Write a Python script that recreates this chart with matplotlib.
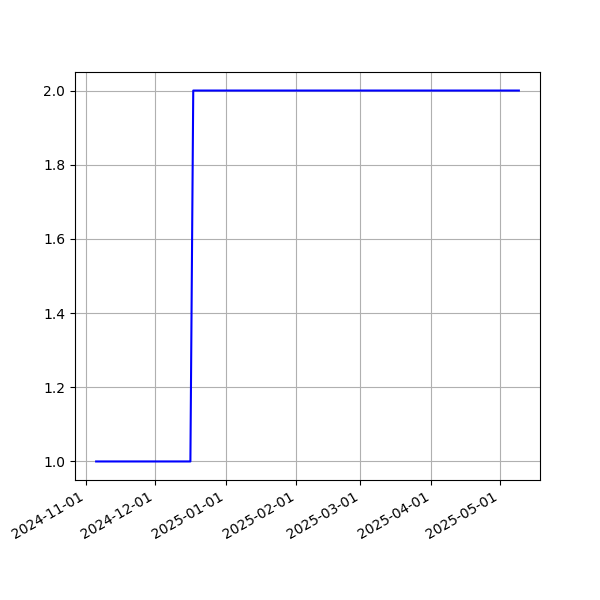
import matplotlib
matplotlib.use("Agg")
import matplotlib.pyplot as plt
import matplotlib.dates as mdates
import pandas as pd

# step series: value goes from 1 to 2 in mid-December
dates = ["2024-11-05 08:00", "2024-12-16 14:00", "2024-12-17 20:00", "2025-05-09 08:00"]
values = [1.0, 1.0, 2.0, 2.0]

times = pd.to_datetime(dates)

fig, ax = plt.subplots(figsize=(6, 6), dpi=100)
ax.plot(times, values, color="blue", linestyle="-")
ax.grid(True)
ax.xaxis.set_major_locator(mdates.MonthLocator())
ax.xaxis.set_major_formatter(mdates.DateFormatter("%Y-%m-%d"))
fig.autofmt_xdate()

fig.savefig("out.png", dpi=100)
